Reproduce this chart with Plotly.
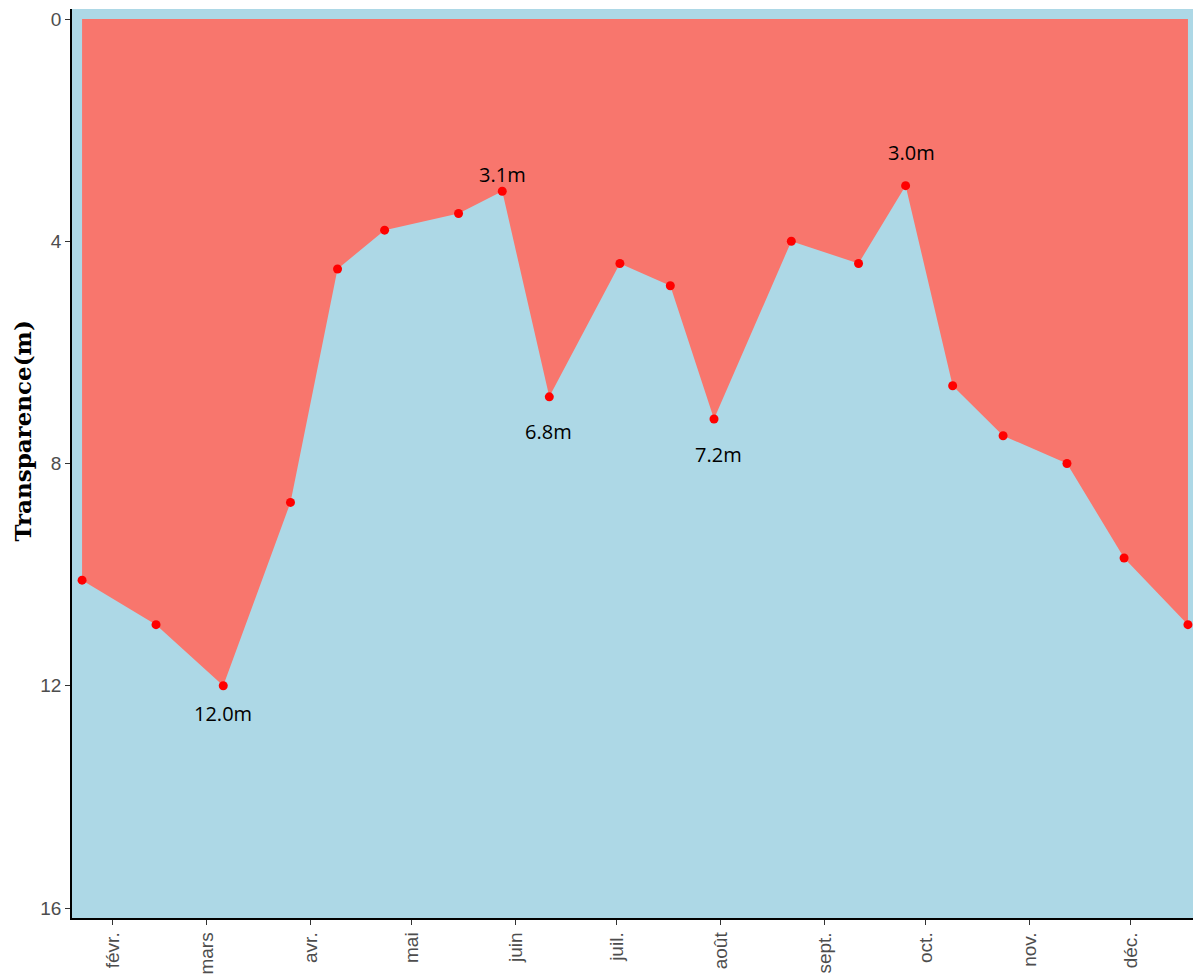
import plotly.graph_objects as go

# Secchi depth readings over the year
dates = [
    "2021-01-23", "2021-02-14", "2021-03-06", "2021-03-26", "2021-04-09",
    "2021-04-23", "2021-05-15", "2021-05-28", "2021-06-11", "2021-07-02",
    "2021-07-17", "2021-07-30", "2021-08-22", "2021-09-11", "2021-09-25",
    "2021-10-09", "2021-10-24", "2021-11-12", "2021-11-29", "2021-12-18",
]
transparence = [10.1, 10.9, 12.0, 8.7, 4.5, 3.8, 3.5, 3.1, 6.8, 4.4,
                4.8, 7.2, 4.0, 4.4, 3.0, 6.6, 7.5, 8.0, 9.7, 10.9]

month_ticks = ["2021-02-01", "2021-03-01", "2021-04-01", "2021-05-01", "2021-06-01",
               "2021-07-01", "2021-08-01", "2021-09-01", "2021-10-01", "2021-11-01",
               "2021-12-01"]
month_labels = ["févr.", "mars", "avr.", "mai", "juin", "juil.", "août",
                "sept.", "oct.", "nov.", "déc."]

y_ticks = [0, 4, 8, 12, 16]

# indices of the extreme readings that get a text label
labelled_idx = [2, 7, 8, 11, 14]

# pixel offsets for each label (x, y), like ggrepel put them
label_shift = {2: (0, -28), 7: (0, 17), 8: (-1, -35), 11: (4, -35), 14: (6, 33)}

fig = go.Figure()

# red area between the surface (0) and the measured depth
fig.add_trace(go.Scatter(
    x=dates, y=transparence,
    mode="lines",
    line=dict(width=0, color="#F8766D"),
    fill="tozeroy",
    fillcolor="#F8766D",
    hoverinfo="skip",
))

fig.add_trace(go.Scatter(
    x=dates, y=transparence,
    mode="markers",
    marker=dict(color="#FF0000", size=9),
))

for i in labelled_idx:
    dx, dy = label_shift[i]
    fig.add_annotation(
        x=dates[i], y=transparence[i],
        text=f"{transparence[i]:.1f}m",
        showarrow=False,
        xshift=dx, yshift=dy,
        font=dict(family="Open Sans", size=20, color="black"),
    )

# y title placed by hand, it sits a bit above the panel centre
fig.add_annotation(
    x=0, xref="paper", xshift=-50, xanchor="center",
    y=0.5, yref="paper", yshift=32, yanchor="middle",
    text="<b>Transparence(m)</b>",
    textangle=-90,
    showarrow=False,
    font=dict(family="DejaVu Serif", size=23, color="black"),
)

fig.update_layout(
    width=1193, height=974,
    margin=dict(l=72, r=0, t=9, b=56),
    paper_bgcolor="white",
    plot_bgcolor="#ADD8E6",
    showlegend=False,
    font=dict(family="Liberation Sans", size=19, color="#4D4D4D"),
    xaxis=dict(
        type="date",
        range=["2021-01-20", "2021-12-19 12:00"],
        tickvals=month_ticks,
        ticktext=month_labels,
        tickangle=-90,
        showgrid=False, zeroline=False,
        showline=True, linecolor="black", linewidth=1.5,
        ticks="outside", ticklen=5, tickcolor="#333333",
        tickfont=dict(size=19, color="#4D4D4D"),
        automargin=False,
    ),
    yaxis=dict(
        range=[16.18, -0.18],
        tickvals=y_ticks,
        showgrid=False, zeroline=False,
        showline=True, linecolor="black", linewidth=1.5,
        ticks="outside", ticklen=5, tickcolor="#333333",
        tickfont=dict(size=19, color="#4D4D4D"),
        automargin=False,
    ),
)

# drop the default body margin so the figure fills the window exactly
fig.write_html(
    "out.html",
    config={"displayModeBar": False},
    post_script="document.body.style.margin='0';",
)
